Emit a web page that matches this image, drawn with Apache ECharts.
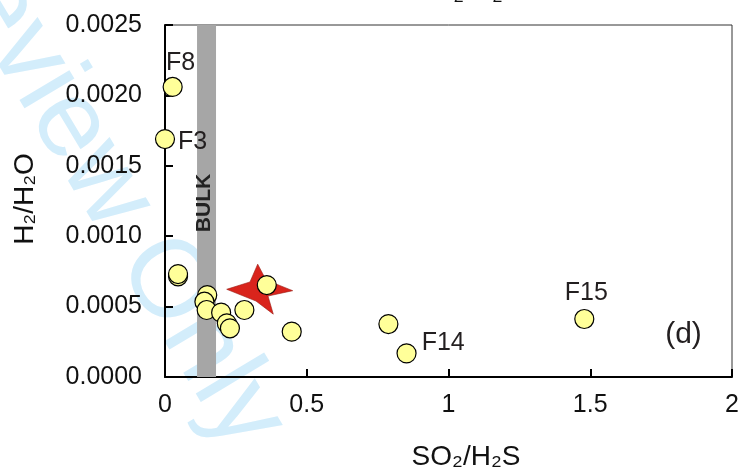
<!DOCTYPE html>
<html>
<head>
<meta charset="utf-8">
<script src="https://cdn.jsdelivr.net/npm/echarts@6/dist/echarts.min.js"></script>
<style>
html,body{margin:0;padding:0;background:#fff;}
#c{width:747px;height:473px;}
</style>
</head>
<body>
<div id="c"></div>
<script>
// ---- data ----
const xTicks = [0, 0.5, 1, 1.5, 2];
const yTicks = [0, 0.0005, 0.0010, 0.0015, 0.0020, 0.0025];
const so2h2s = [0.000, 0.027, 0.046, 0.046, 0.149, 0.139, 0.147, 0.198, 0.218, 0.229, 0.280, 0.359, 0.447, 0.788, 0.852, 1.479];
const h2h2o  = [0.00169, 0.00206, 0.000715, 0.000731, 0.000582, 0.000535, 0.000476, 0.000457, 0.000381, 0.000346, 0.000476, 0.000653, 0.000322, 0.000376, 0.000168, 0.000412];
const pointNames = ['F3', 'F8', '', '', '', '', '', '', '', '', '', '', '', '', 'F14', 'F15'];
const starX = [0.334];
const starY = [0.000624];
const bulkRange = [0.113, 0.180];

const FONT = '"Liberation Sans", Arial, sans-serif';
const labelStyles = {
  F8: {position: 'top', distance: 1, offset: [8, 0]},
  F3: {position: 'right', distance: 3, offset: [0, 3]},
  F14: {position: 'right', distance: 5, offset: [0, -10]},
  F15: {position: 'top', distance: 3, offset: [2, 0]}
};

const pts = so2h2s.map((x, i) => {
  const n = pointNames[i];
  const item = {value: [x, h2h2o[i]], name: n};
  if (n) {
    item.label = Object.assign({show: true, formatter: n, color: '#231f20', fontSize: 25, fontFamily: FONT}, labelStyles[n]);
  }
  return item;
});

const starPath = 'path://M257.7,264.3 L266,280 L292.7,290.7 L268,296 L273.3,314 L256,301 L226.7,289.3 L250,282 Z';

const chart = echarts.init(document.getElementById('c'), null, {renderer: 'canvas'});
chart.setOption({
  animation: false,
  backgroundColor: '#fff',
  textStyle: {fontFamily: FONT},
  grid: {left: 165, right: 15, top: 25, bottom: 96, show: true, borderColor: '#333', borderWidth: 1, backgroundColor: 'transparent'},
  xAxis: {
    type: 'value', min: xTicks[0], max: xTicks[xTicks.length - 1], interval: 0.5,
    axisLine: {onZero: false, lineStyle: {color: '#000', width: 2}},
    axisTick: {inside: true, length: 8, lineStyle: {color: '#000', width: 2}},
    splitLine: {show: false},
    axisLabel: {margin: 16, fontSize: 25, color: '#111', fontFamily: FONT, formatter: v => String(v)}
  },
  yAxis: {
    type: 'value', min: yTicks[0], max: yTicks[yTicks.length - 1], interval: 0.0005,
    axisLine: {onZero: false, lineStyle: {color: '#000', width: 2}},
    axisTick: {inside: true, length: 8, lineStyle: {color: '#000', width: 2}},
    splitLine: {show: false},
    axisLabel: {margin: 23, fontSize: 25, color: '#111', fontFamily: FONT, formatter: v => v.toFixed(4)}
  },
  graphic: [
    {type: 'text', z: -10, x: 100, y: 175, rotation: -59 * Math.PI / 180,
     style: {text: 'Review Only', fontSize: 110, fontFamily: FONT, fill: '#d3edfb', align: 'center', verticalAlign: 'middle'}},
    {type: 'text', z: 5, x: 204.5, y: 203, rotation: Math.PI / 2,
     style: {text: 'BULK', fontSize: 21, fontWeight: 'bold', fontFamily: FONT, fill: '#222', align: 'center', verticalAlign: 'middle'}},
    {type: 'text', z: 5, x: 683.5, y: 335,
     style: {text: '(d)', fontSize: 30, fontFamily: FONT, fill: '#231f20', align: 'center', verticalAlign: 'middle'}},
    {type: 'text', z: 5, x: 466, y: 457,
     style: {text: 'SO₂/H₂S', fontSize: 28, fontFamily: FONT, fill: '#111', align: 'center', verticalAlign: 'middle'}},
    {type: 'text', z: 5, x: 25, y: 199, rotation: Math.PI / 2,
     style: {text: 'H₂/H₂O', fontSize: 28, fontFamily: FONT, fill: '#111', align: 'center', verticalAlign: 'middle'}},
    {type: 'text', z: 5, x: 433, y: -8,
     style: {text: 'H₂/H₂O', fontSize: 28, fontFamily: FONT, fill: '#111', align: 'left', verticalAlign: 'middle'}}
  ],
  series: [
    {
      type: 'scatter', data: [], silent: true,
      markArea: {silent: true, itemStyle: {color: '#a6a6a6'}, data: [[{xAxis: bulkRange[0], yAxis: yTicks[0]}, {xAxis: bulkRange[1], yAxis: yTicks[yTicks.length - 1]}]]}
    },
    {
      type: 'scatter', z: 3,
      symbol: starPath, symbolSize: [66, 50], symbolKeepAspect: false,
      itemStyle: {color: '#d9241c', borderColor: '#9a1a12', borderWidth: 0.6, opacity: 1},
      data: starX.map((x, i) => [x, starY[i]])
    },
    {
      type: 'scatter', z: 4,
      symbol: 'circle', symbolSize: 19,
      itemStyle: {color: '#ffff99', borderColor: '#000', borderWidth: 1.2, opacity: 1},
      data: pts
    }
  ]
});
</script>
</body>
</html>
